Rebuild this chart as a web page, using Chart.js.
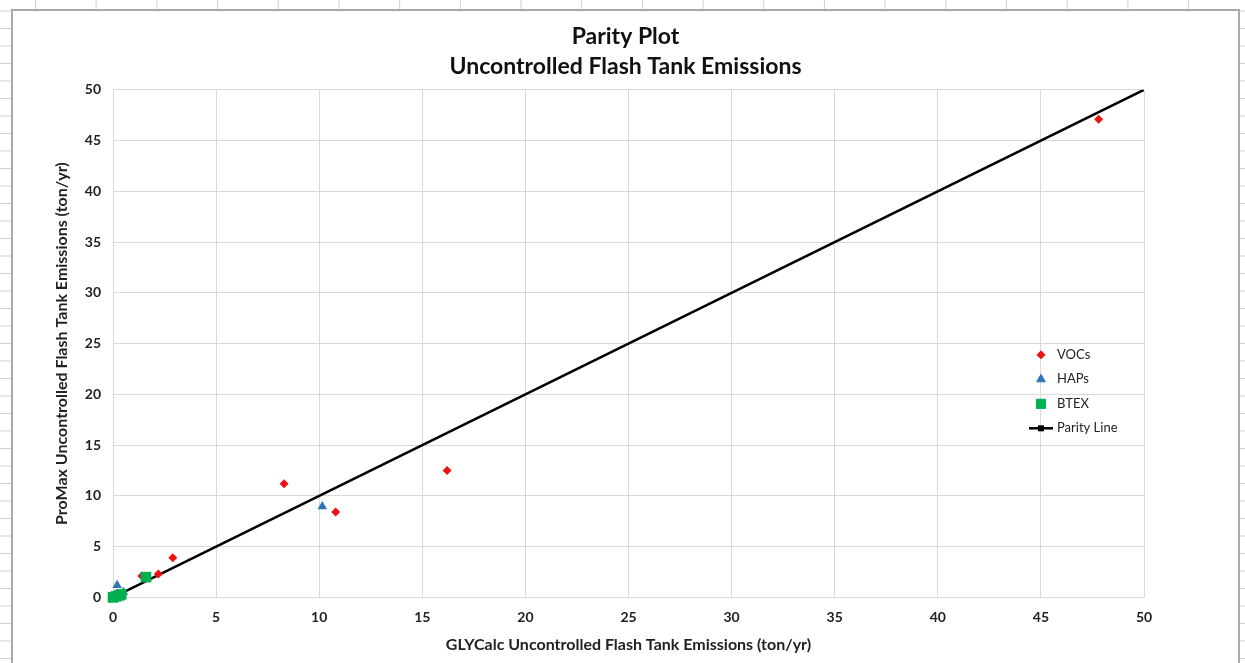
<!DOCTYPE html>
<html>
<head>
<meta charset="utf-8">
<script src="https://cdn.jsdelivr.net/npm/chart.js@4"></script>
<style>
  html, body { margin: 0; padding: 0; }
  body {
    width: 1245px; height: 663px; overflow: hidden; position: relative;
    background-color: #fff;
    background-image:
      linear-gradient(to right, #d0d0d0 1px, transparent 1px),
      linear-gradient(to bottom, #d0d0d0 1px, transparent 1px);
    background-size: 60.7px 100%, 100% 17.5px;
    background-position: 35px 0, 0 28px;
  }
  #frame {
    position: absolute; left: 11px; top: 9px; width: 1225px; height: 660px;
    background: #fff; border: 2px solid #a8a8a8; border-bottom: none;
  }
  canvas { display: block; }
</style>
</head>
<body>
<div id="frame"><canvas id="parity"></canvas></div>
<script>
// GLYCalc vs ProMax, ton/yr
const vocX = [47.8, 8.3, 10.8, 16.2, 2.9, 2.2, 1.4, 0.3, 0.1];
const vocY = [47.1, 11.2, 8.4, 12.5, 3.9, 2.3, 2.1, 0.2, 0.1];
const hapX = [10.15, 0.2, 0.5, 0.1];
const hapY = [8.95, 1.2, 0.5, 0.1];
const btexX = [1.6, 0.0, 0.15, 0.3, 0.4];
const btexY = [2.0, 0.0, 0.1, 0.2, 0.3];
const parityX = [0, 50];
const parityY = [0, 50];
const ticks = [0, 5, 10, 15, 20, 25, 30, 35, 40, 45, 50];

const pts = (xs, ys) => xs.map((x, i) => ({ x: x, y: ys[i] }));
const font = 'Lato, "Liberation Sans", sans-serif';

// legend placed inside the plot area, like the excel one
const insideLegend = {
  id: 'insideLegend',
  afterDraw(chart) {
    const ctx = chart.ctx;
    const a = chart.chartArea;
    const x0 = a.right - 103, y0 = a.top + 265, step = 24.5;
    ctx.save();
    ctx.font = '13px ' + font;
    ctx.textBaseline = 'middle';
    chart.data.datasets.forEach((ds, i) => {
      const y = y0 + i * step;
      if (ds.showLine) {
        ctx.strokeStyle = ds.borderColor;
        ctx.lineWidth = 2.5;
        ctx.beginPath(); ctx.moveTo(x0 - 12, y); ctx.lineTo(x0 + 12, y); ctx.stroke();
        ctx.fillStyle = ds.borderColor;
        ctx.fillRect(x0 - 3, y - 3, 6, 6);
      } else {
        ctx.fillStyle = ds.backgroundColor;
        ctx.strokeStyle = ds.backgroundColor;
        Chart.helpers.drawPoint(ctx, {
          pointStyle: ds.pointStyle, radius: ds.legendRadius, rotation: 0, borderWidth: 1
        }, x0, y);
      }
      ctx.fillStyle = '#222';
      ctx.fillText(ds.label, x0 + 16, y);
    });
    ctx.restore();
  }
};

const canvas = document.getElementById('parity');
canvas.width = 1225; canvas.height = 654;

new Chart(canvas.getContext('2d'), {
  type: 'scatter',
  data: {
    datasets: [
      { label: 'VOCs', data: pts(vocX, vocY), pointStyle: 'rectRot', pointRadius: 4.5, legendRadius: 4,
        backgroundColor: '#ee1111', borderColor: '#ee1111', borderWidth: 0, clip: false, order: 1 },
      { label: 'HAPs', data: pts(hapX, hapY), pointStyle: 'triangle', pointRadius: 5.5, legendRadius: 5,
        backgroundColor: '#2e75b6', borderColor: '#2e75b6', borderWidth: 0, clip: false, order: 2 },
      { label: 'BTEX', data: pts(btexX, btexY), pointStyle: 'rect', pointRadius: 7.5, legendRadius: 6.5,
        backgroundColor: '#00b050', borderColor: '#00b050', borderWidth: 0, clip: false, order: 0 },
      { label: 'Parity Line', data: pts(parityX, parityY), showLine: true, pointRadius: 0,
        borderColor: '#000', backgroundColor: '#000', borderWidth: 2.5, order: 10 }
    ]
  },
  options: {
    responsive: false,
    animation: false,
    layout: { padding: { left: 35, right: 35, top: 5, bottom: 10 } },
    plugins: {
      legend: { display: false },
      tooltip: { enabled: false },
      title: {
        display: true,
        text: ['Parity Plot', 'Uncontrolled Flash Tank Emissions'],
        color: '#111',
        font: { family: font, size: 23, weight: 'bold', lineHeight: 1.3 },
        padding: { top: 6, bottom: 8 }
      }
    },
    scales: {
      x: {
        type: 'linear', min: 0, max: 50,
        afterBuildTicks: s => { s.ticks = ticks.map(v => ({ value: v })); },
        grid: { color: '#d9d9d9', drawTicks: false, lineWidth: 1 },
        border: { color: '#d9d9d9' },
        ticks: { color: '#222', padding: 12, font: { family: font, size: 14, weight: 'bold' } },
        title: { display: true, text: 'GLYCalc Uncontrolled Flash Tank Emissions (ton/yr)',
          color: '#222', padding: { top: 0 }, font: { family: font, size: 16, weight: 'bold', lineHeight: 0.8 } }
      },
      y: {
        type: 'linear', min: 0, max: 50,
        afterBuildTicks: s => { s.ticks = ticks.map(v => ({ value: v })); },
        afterFit: s => { s.width = 65; },
        grid: { color: '#d9d9d9', drawTicks: false, lineWidth: 1 },
        border: { color: '#d9d9d9' },
        ticks: { color: '#222', padding: 12, font: { family: font, size: 14, weight: 'bold' } },
        title: { display: true, text: 'ProMax Uncontrolled Flash Tank Emissions (ton/yr)',
          color: '#222', padding: { bottom: 8 }, font: { family: font, size: 16, weight: 'bold' } }
      },
      // empty right-hand axis, only keeps the excel right margin
      yRight: {
        type: 'linear', position: 'right', min: 0, max: 50,
        afterFit: s => { s.width = 59; },
        grid: { display: false },
        border: { display: false },
        ticks: { display: false }
      }
    }
  },
  plugins: [insideLegend]
});
</script>
</body>
</html>
